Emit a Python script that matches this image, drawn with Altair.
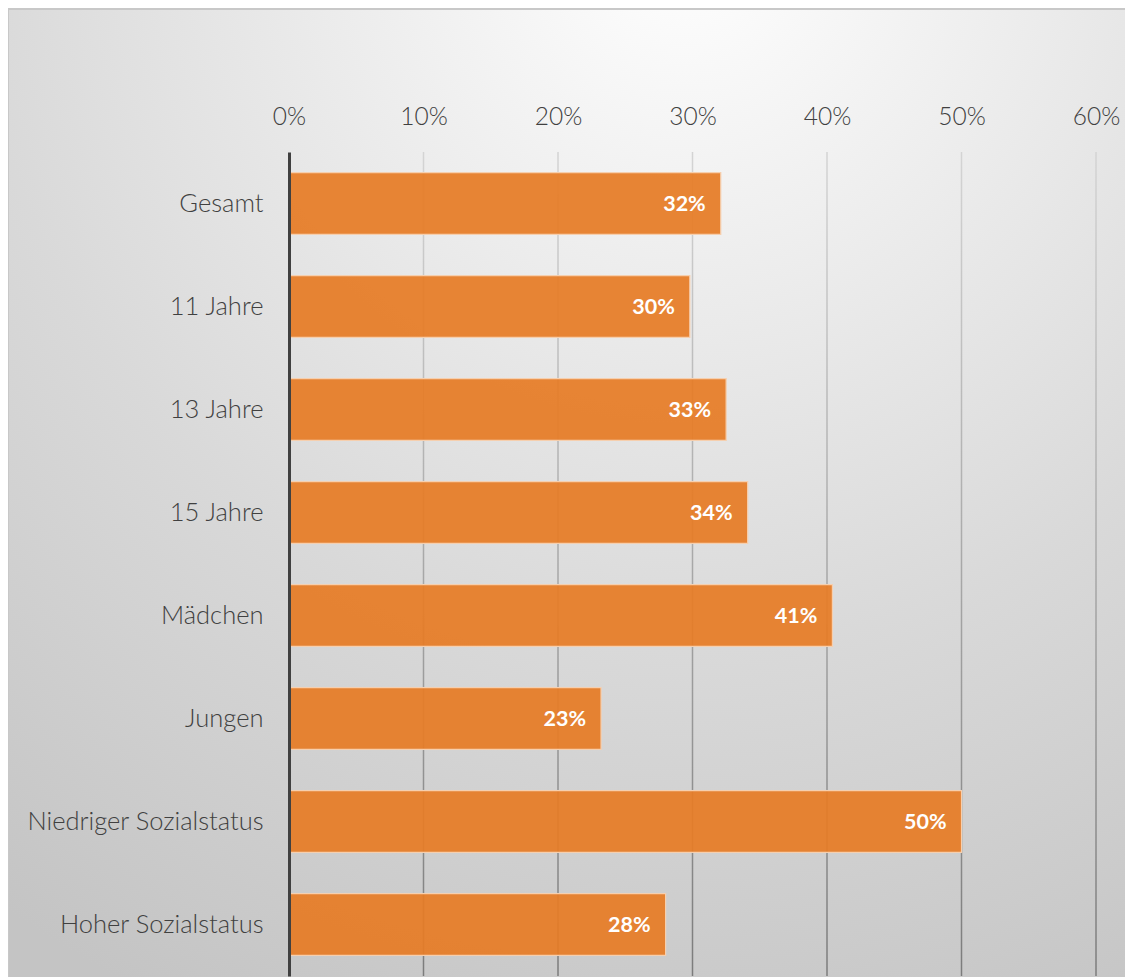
import altair as alt
import pandas as pd

categories = ["Gesamt", "11 Jahre", "13 Jahre", "15 Jahre", "Mädchen", "Jungen",
              "Niedriger Sozialstatus", "Hoher Sozialstatus"]
values = [32.1, 29.8, 32.5, 34.1, 40.4, 23.2, 50.0, 28.0]
labels = ["32%", "30%", "33%", "34%", "41%", "23%", "50%", "28%"]
ticks = [0, 10, 20, 30, 40, 50, 60]

W, H = 807, 824
FONT = "Lato"

df = pd.DataFrame({"cat": categories, "v": values, "lab": labels})
tdf = pd.DataFrame({"t": ticks})

xscale = alt.Scale(domain=[0, 60], nice=False, zero=True)

bg = alt.Chart(alt.Data(values=[{"a": 1}])).mark_rect(
    fill={"gradient": "radial", "x1": 0.6, "y1": 0.0, "r1": 0.0,
          "x2": 0.6, "y2": 0.0, "r2": 1.05,
          "stops": [{"offset": 0, "color": "#ffffff"},
                    {"offset": 0.6, "color": "#d9d9d9"},
                    {"offset": 1, "color": "#c4c4c4"}]},
    stroke="#c8c8c8", strokeWidth=2,
).encode(x=alt.value(-281), x2=alt.value(W + 40), y=alt.value(-143), y2=alt.value(H + 20))

grid = alt.Chart(tdf).transform_filter("datum.t > 0").mark_rect(
    xOffset=-0.75, x2Offset=0.75,
    fill={"gradient": "linear", "x1": 0, "y1": 0, "x2": 0, "y2": 1,
          "stops": [{"offset": 0, "color": "#d4d4d4"},
                    {"offset": 1, "color": "#7c7c7c"}]},
).encode(
    x=alt.X("t:Q", scale=xscale),
    x2="t:Q",
    y=alt.value(0), y2=alt.value(H),
)

yenc = alt.Y("cat:N", sort=categories, title=None,
             scale=alt.Scale(paddingInner=0.4, paddingOuter=0.2),
             axis=alt.Axis(domainColor="#404040", domainWidth=3, ticks=False,
                           labelFont=FONT, labelFontSize=25.5, labelFontWeight=300,
                           labelColor="#404040", labelPadding=26, zindex=2,
                           labelLimit=300))
xenc = alt.X("v:Q", scale=xscale, title=None,
             axis=alt.Axis(orient="top", values=ticks, format=".0f",
                           labelExpr="datum.value + '%'", domain=False, ticks=False,
                           grid=False, labelFlush=False, labelFont=FONT,
                           labelFontSize=24.5, labelFontWeight=300,
                           labelColor="#404040", labelPadding=23, zindex=2))

bars = alt.Chart(df).mark_bar(
    fill="#e67c26", fillOpacity=0.93, stroke="#f6cfae", strokeWidth=1.2,
).encode(x=xenc, y=yenc)

text = alt.Chart(df).mark_text(
    align="right", baseline="middle", dx=-15, dy=1, color="white",
    font=FONT, fontSize=21.5, fontWeight="bold",
).encode(x=alt.X("v:Q", scale=xscale), y=alt.Y("cat:N", sort=categories), text="lab:N")

chart = alt.layer(bg, grid, bars, text).properties(
    width=W, height=H,
    autosize=alt.AutoSizeParams(type="none"),
    padding={"left": 281, "top": 144, "right": 29, "bottom": 1},
).configure_view(stroke=None)

chart.save("out.html", embed_options={"renderer": "svg", "actions": False})
